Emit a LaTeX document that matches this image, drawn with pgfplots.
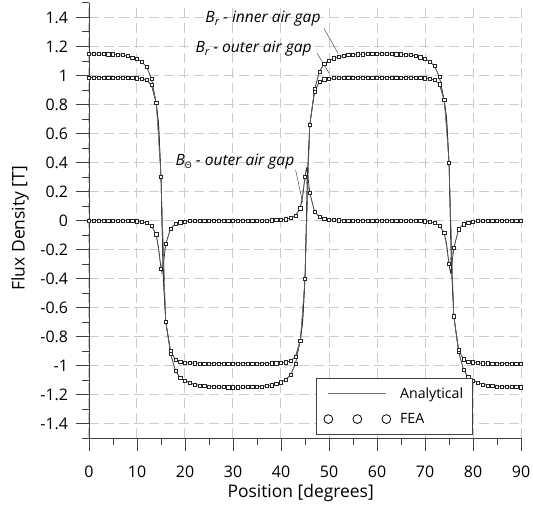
\documentclass[border=0pt]{standalone}
\usepackage{fontspec}
\setmainfont{Open Sans}
\usepackage{pgfplots}
\pgfplotsset{compat=1.18}
\usepackage{pgfplotstable}

\pgfplotstableread{
x inner outer theta
0 1.150 0.986 0
1 1.150 0.986 0
2 1.149 0.986 0
3 1.148 0.986 0
4 1.147 0.986 0
5 1.146 0.986 0
6 1.144 0.986 -0.001
7 1.141 0.986 -0.001
8 1.135 0.985 -0.002
9 1.125 0.984 -0.003
10 1.113 0.981 -0.005
11 1.095 0.977 -0.010
12 1.060 0.968 -0.017
13 0.980 0.935 -0.036
14 0.810 0.810 -0.095
15 0.300 0.300 -0.330
16 -0.700 -0.700 -0.160
17 -0.920 -0.900 -0.055
18 -1.035 -0.960 -0.024
19 -1.085 -0.974 -0.012
20 -1.105 -0.979 -0.007
21 -1.120 -0.982 -0.004
22 -1.131 -0.984 -0.002
23 -1.138 -0.986 -0.001
24 -1.142 -0.986 0
25 -1.145 -0.986 0
26 -1.147 -0.986 0
27 -1.148 -0.986 0
28 -1.149 -0.986 0
29 -1.150 -0.986 0
30 -1.150 -0.986 0
31 -1.150 -0.986 0
32 -1.149 -0.986 0
33 -1.148 -0.986 0
34 -1.147 -0.986 0
35 -1.146 -0.986 0
36 -1.144 -0.986 0.001
37 -1.141 -0.986 0.001
38 -1.136 -0.985 0.002
39 -1.126 -0.984 0.003
40 -1.115 -0.981 0.005
41 -1.097 -0.977 0.009
42 -1.065 -0.969 0.017
43 -0.990 -0.940 0.034
44 -0.830 -0.830 0.085
45 -0.400 -0.400 0.300
46 0.660 0.660 0.190
47 0.905 0.890 0.060
48 1.027 0.957 0.026
49 1.081 0.974 0.013
50 1.103 0.978 0.007
51 1.119 0.982 0.004
52 1.130 0.984 0.002
53 1.137 0.985 0.001
54 1.142 0.986 0.001
55 1.145 0.986 0
56 1.146 0.986 0
57 1.147 0.986 0
58 1.148 0.986 0
59 1.149 0.986 0
60 1.150 0.986 0
61 1.150 0.986 0
62 1.149 0.986 0
63 1.148 0.986 0
64 1.147 0.986 0
65 1.146 0.986 0
66 1.144 0.986 -0.001
67 1.141 0.986 -0.001
68 1.136 0.985 -0.002
69 1.126 0.984 -0.003
70 1.115 0.981 -0.005
71 1.097 0.977 -0.009
72 1.065 0.969 -0.017
73 0.990 0.940 -0.034
74 0.830 0.830 -0.085
75 0.400 0.400 -0.300
76 -0.660 -0.660 -0.190
77 -0.905 -0.890 -0.060
78 -1.027 -0.957 -0.026
79 -1.081 -0.974 -0.013
80 -1.103 -0.978 -0.007
81 -1.119 -0.982 -0.004
82 -1.130 -0.984 -0.002
83 -1.137 -0.985 -0.001
84 -1.142 -0.986 -0.001
85 -1.145 -0.986 0
86 -1.146 -0.986 0
87 -1.147 -0.986 0
88 -1.148 -0.986 0
89 -1.149 -0.986 0
90 -1.150 -0.986 0
}\fea

\pgfplotstableread{
x inner outer theta
0 1.150 0.986 0
2 1.149 0.986 0
4 1.147 0.986 0
6 1.144 0.986 -0.001
8 1.135 0.985 -0.002
9 1.125 0.984 -0.003
10 1.113 0.981 -0.005
11 1.095 0.977 -0.010
12 1.060 0.968 -0.017
13 0.980 0.935 -0.036
14 0.810 0.810 -0.095
14.5 0.660 0.660 -0.190
15 0.300 0.300 -0.330
15.2 0 0 -0.360
15.5 -0.400 -0.400 -0.300
16 -0.700 -0.700 -0.160
17 -0.920 -0.900 -0.055
18 -1.035 -0.960 -0.024
19 -1.085 -0.974 -0.012
20 -1.105 -0.979 -0.007
21 -1.120 -0.982 -0.004
22 -1.131 -0.984 -0.002
24 -1.142 -0.986 0
26 -1.147 -0.986 0
28 -1.149 -0.986 0
30 -1.150 -0.986 0
32 -1.149 -0.986 0
34 -1.147 -0.986 0
36 -1.144 -0.986 0.001
38 -1.136 -0.985 0.002
39 -1.126 -0.984 0.003
40 -1.115 -0.981 0.005
41 -1.097 -0.977 0.009
42 -1.065 -0.969 0.017
43 -0.990 -0.940 0.034
44 -0.830 -0.830 0.085
44.5 -0.700 -0.700 0.160
45 -0.400 -0.400 0.300
45.3 0 0 0.360
45.5 0.300 0.300 0.330
46 0.660 0.660 0.190
47 0.905 0.890 0.060
48 1.027 0.957 0.026
49 1.081 0.974 0.013
50 1.103 0.978 0.007
51 1.119 0.982 0.004
52 1.130 0.984 0.002
54 1.142 0.986 0.001
56 1.146 0.986 0
58 1.148 0.986 0
60 1.150 0.986 0
62 1.149 0.986 0
64 1.147 0.986 0
66 1.144 0.986 -0.001
68 1.136 0.985 -0.002
69 1.126 0.984 -0.003
70 1.115 0.981 -0.005
71 1.097 0.977 -0.009
72 1.065 0.969 -0.017
73 0.990 0.940 -0.034
74 0.830 0.830 -0.085
74.5 0.700 0.700 -0.160
75 0.400 0.400 -0.300
75.3 0 0 -0.360
75.5 -0.300 -0.300 -0.330
76 -0.660 -0.660 -0.190
77 -0.905 -0.890 -0.060
78 -1.027 -0.957 -0.026
79 -1.081 -0.974 -0.013
80 -1.103 -0.978 -0.007
81 -1.119 -0.982 -0.004
82 -1.130 -0.984 -0.002
84 -1.142 -0.986 -0.001
86 -1.146 -0.986 0
88 -1.148 -0.986 0
90 -1.150 -0.986 0
}\ana

\begin{document}
\begin{tikzpicture}
\begin{axis}[name=ax,
  scale only axis, width=432bp, height=435bp,
  xmin=0, xmax=90, ymin=-1.5, ymax=1.5,
  axis lines=left,
  axis line style={-, draw=black!75, line width=1pt},
  xtick={0,10,20,30,40,50,60,70,80,90},
  minor xtick={5,15,25,35,45,55,65,75,85},
  ytick={-1.4,-1.2,-1,-0.8,-0.6,-0.4,-0.2,0,0.2,0.4,0.6,0.8,1,1.2,1.4},
  minor ytick={-1.5,-1.3,-1.1,-0.9,-0.7,-0.5,-0.3,-0.1,0.1,0.3,0.5,0.7,0.9,1.1,1.3,1.5},
  tick align=outside, major tick length=13bp, minor tick length=7bp,
  every tick/.style={draw=black!75, line width=1pt},
  grid=major,
  major grid style={draw=black!20, line width=1bp, dash pattern=on 10bp off 5bp},
  /pgf/number format/assume math mode=true,
  yticklabel style={/pgf/number format/fixed, font=\fontsize{16}{19}\selectfont, xshift=-4.5bp},
  xticklabel style={font=\fontsize{16}{19}\selectfont, yshift=-11bp},
  xlabel={Position [degrees]}, ylabel={Flux Density [T]},
  every axis x label/.style={at={(axis description cs:0.49,0)}, anchor=center, yshift=-55bp, font=\fontsize{17.5}{21}\selectfont},
  every axis y label/.style={at={(axis description cs:0,0.482)}, anchor=center, xshift=-69bp, rotate=90, font=\fontsize{17.5}{21}\selectfont},
  legend style={at={(axis cs:47.3,-1.083)}, anchor=north west, draw=black!75, line width=1pt,
    fill=white, cells={anchor=west}, inner xsep=7bp, inner ysep=7.5bp, row sep=9.5bp, column sep=7bp,
    font=\fontsize{14.2}{17}\selectfont},
  clip=false,
]
\addlegendimage{legend image code/.code={\draw[black!55, line width=1pt] (0bp,0bp) -- (58bp,0bp);}}
\addlegendentry{Analytical}
\addlegendimage{legend image code/.code={\draw[black, line width=0.8pt] (0bp,0bp) circle (4.4bp) (29bp,0bp) circle (4.4bp) (58bp,0bp) circle (4.4bp);}}
\addlegendentry{FEA}

\addplot[forget plot, black!85, line width=0.7pt] table[x=x,y=inner]{\ana};
\addplot[forget plot, black!85, line width=0.7pt] table[x=x,y=outer]{\ana};
\addplot[forget plot, black!85, line width=0.7pt] table[x=x,y=theta]{\ana};
\addplot[forget plot, draw=black!60, line width=0.4pt, mark=square*, mark size=1.6bp,
  mark options={solid, fill=white, draw=black!85, line width=0.5pt}] table[x=x,y=inner]{\fea};
\addplot[forget plot, draw=black!60, line width=0.4pt, mark=square*, mark size=1.6bp,
  mark options={solid, fill=white, draw=black!85, line width=0.5pt}] table[x=x,y=outer]{\fea};
\addplot[forget plot, draw=black!60, line width=0.4pt, mark=square*, mark size=1.6bp,
  mark options={solid, fill=white, draw=black!85, line width=0.5pt}] table[x=x,y=theta]{\fea};

\node[font=\fontsize{15.6}{18}\selectfont\itshape] at (axis cs:36.25,1.391) {B\raisebox{-0.35ex}{\fontsize{11}{11}\selectfont r} - inner air gap};
\node[font=\fontsize{15.6}{18}\selectfont\itshape] at (axis cs:34.3,1.184) {B\raisebox{-0.35ex}{\fontsize{11}{11}\selectfont r} - outer air gap};
\node[font=\fontsize{15.6}{18}\selectfont\itshape] at (axis cs:30.4,0.409) {B\raisebox{-0.4ex}{\fontsize{9}{9}\selectfont\upshape Θ} - outer air gap};
\draw[black!70, line width=0.5pt] (axis cs:48.96,1.324) -- (axis cs:51.9,1.152);
\draw[black!70, line width=0.5pt] (axis cs:47.5,1.154) -- (axis cs:50.06,1.014);
\draw[black!70, line width=0.5pt] (axis cs:43.04,0.35) -- (axis cs:44.5,0.126);
\end{axis}
\pgfresetboundingbox
\path (ax.south west) ++(-89bp,-70bp) rectangle ++(533bp,508bp);
\end{tikzpicture}
\end{document}
